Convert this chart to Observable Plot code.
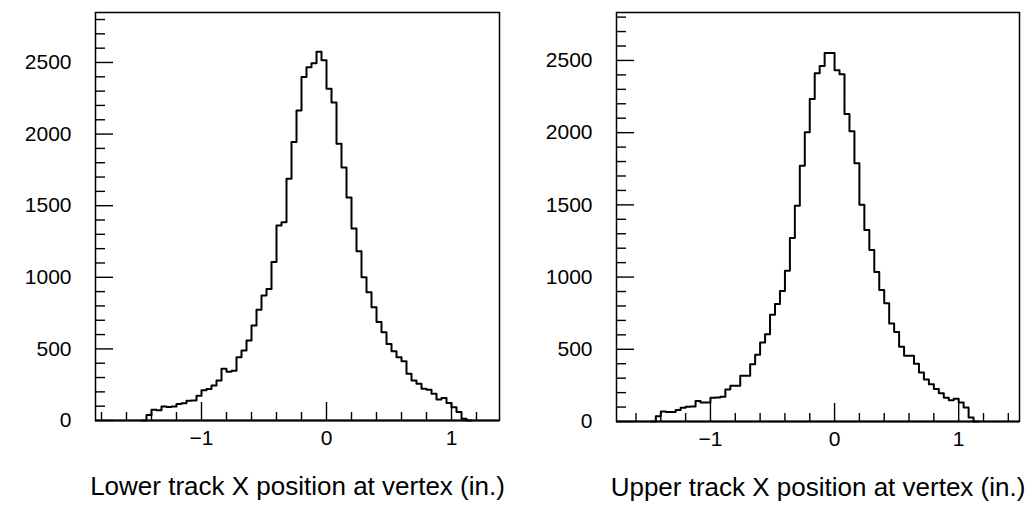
<!DOCTYPE html>
<html><head><meta charset="utf-8">
<script src="https://cdn.jsdelivr.net/npm/d3@7"></script>
<script src="https://cdn.jsdelivr.net/npm/@observablehq/plot@0.6"></script>
<style>
body{margin:0;background:#fff;}
#wrap{position:relative;width:1036px;height:512px;overflow:hidden;}
#wrap > div{position:absolute;top:0;}
</style></head><body>
<div id="wrap"><div id="left" style="left:0"></div><div id="right" style="left:518px"></div></div>
<script>
// Histogram bins: first bin starts at binStart, each binWidth wide
const binStart = -1.48;
const binWidth = 0.04;

const lowerCounts = [0, 38, 75, 72, 97, 95, 97, 116, 120, 138, 140, 172, 212, 220, 244, 280, 361, 340, 348, 442,
  489, 559, 663, 773, 873, 919, 1106, 1362, 1385, 1688, 1944, 2165, 2398, 2467, 2495, 2575, 2515,
  2316, 2220, 1932, 1766, 1558, 1340, 1182, 1001, 896, 791, 687, 617, 535, 483, 442, 413, 326, 279,
  256, 221, 215, 186, 146, 157, 122, 93, 60, 12, 0];

const upperCounts = [0, 37, 70, 65, 65, 79, 95, 102, 104, 142, 131, 132, 164, 166, 172, 222, 247, 247, 316, 316,
  397, 462, 547, 605, 740, 813, 903, 1044, 1270, 1494, 1771, 2002, 2233, 2412, 2462, 2552, 2552,
  2432, 2404, 2129, 2009, 1788, 1501, 1326, 1187, 1035, 910, 818, 679, 620, 518, 455, 455, 400, 339,
  290, 258, 225, 195, 165, 147, 158, 132, 97, 28, 0];

const yMajorTicks = [0, 500, 1000, 1500, 2000, 2500];
const yMinorTicks = [100, 200, 300, 400, 600, 700, 800, 900, 1100, 1200, 1300, 1400, 1600, 1700, 1800, 1900,
  2100, 2200, 2300, 2400, 2600, 2700, 2800];
const xMajorTicks = [-1, 0, 1];
const xMinorTicks = [-1.8, -1.6, -1.4, -1.2, -0.8, -0.6, -0.4, -0.2, 0.2, 0.4, 0.6, 0.8, 1.2, 1.4];

const lowerLabel = "Lower track X position at vertex (in.)";
const upperLabel = "Upper track X position at vertex (in.)";

const FONT = "'Liberation Sans', 'DejaVu Sans', sans-serif";

function steps(counts) {
  const pts = counts.map((c, i) => ({x: binStart + i * binWidth, y: c}));
  pts.push({x: binStart + counts.length * binWidth, y: 0});
  return pts;
}
const fmtX = d => d < 0 ? "\u2212" + Math.abs(d) : String(d);
const fmtY = d => String(d);

function panel({counts, label, xDomain, yDomain, ml, mr, mb}) {
  const W = 518, H = 512, mt = 12;
  const fw = W - ml - mr, fh = H - mt - mb;
  const xMinor = xMinorTicks.filter(t => t > xDomain[0] && t < xDomain[1]);
  return Plot.plot({
    width: W, height: H,
    marginLeft: ml, marginRight: mr, marginTop: mt, marginBottom: mb,
    style: {fontFamily: FONT, fontSize: "21px", background: "#fff", color: "#000"},
    x: {domain: xDomain},
    y: {domain: yDomain},
    marks: [
      Plot.tickX(xMinor, {x: d => d, insetTop: fh - 8, stroke: "#000", strokeWidth: 1.4}),
      Plot.tickX(xMajorTicks, {x: d => d, insetTop: fh - 18, stroke: "#000", strokeWidth: 1.4}),
      Plot.tickY(yMinorTicks, {y: d => d, insetRight: fw - 10, stroke: "#000", strokeWidth: 1.4}),
      Plot.tickY(yMajorTicks, {y: d => d, insetRight: fw - 18, stroke: "#000", strokeWidth: 1.4}),
      Plot.lineY(steps(counts), {x: "x", y: "y", curve: "step-after", stroke: "#000", strokeWidth: 2}),
      Plot.frame({stroke: "#000", strokeWidth: 1.5}),
      Plot.ruleY([0], {stroke: "#000", strokeWidth: 2}),
      Plot.axisX(xMajorTicks, {tickSize: 0, tickPadding: 10, tickFormat: fmtX, fontSize: 21, label: null}),
      Plot.axisY(yMajorTicks, {tickSize: 0, tickPadding: 24, tickFormat: fmtY, fontSize: 21, label: null}),
      Plot.text([label], {text: d => d, frameAnchor: "bottom", dy: 74, fontSize: 26, fill: "#000"})
    ]
  });
}

document.getElementById("left").appendChild(panel({
  counts: lowerCounts, label: lowerLabel,
  xDomain: [-1.848, 1.384], yDomain: [0, 2849], ml: 95, mr: 19, mb: 92
}));
document.getElementById("right").appendChild(panel({
  counts: upperCounts, label: upperLabel,
  xDomain: [-1.757, 1.49], yDomain: [0, 2832], ml: 98, mr: 17, mb: 91
}));
</script>
</body></html>
